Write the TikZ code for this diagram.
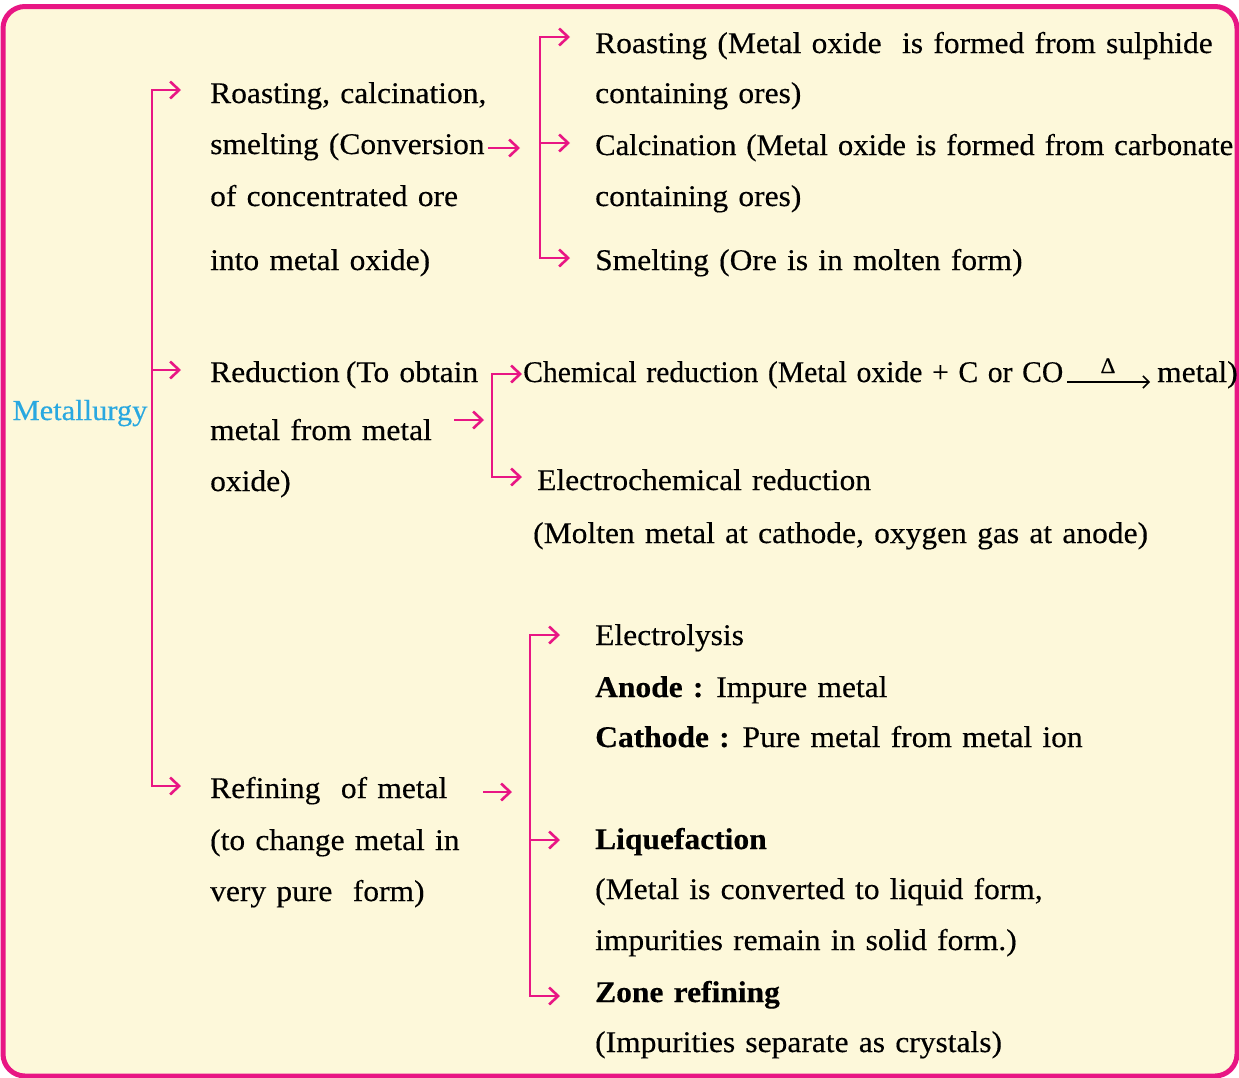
\documentclass[tikz,border=0pt]{standalone}
\usepackage{fontspec}
\setmainfont[FakeStretch=1.05,FakeBold=0.35,WordSpace=1.3]{Liberation Serif}
\usepackage{graphicx}
\usetikzlibrary{arrows.meta}
\definecolor{pinkc}{RGB}{232,22,132}
\definecolor{cream}{RGB}{253,248,218}
\definecolor{cyanc}{RGB}{41,168,224}
\begin{document}
\begin{tikzpicture}[x=1pt,y=-1pt,
  txt/.style={anchor=base west,inner sep=0pt,font=\fontsize{30}{36}\selectfont},
  pline/.style={draw=pinkc,line width=2.6pt},
  conn/.style={pline,-{Straight Barb[length=9pt,width=17pt]}},
  thinarrow/.style={draw=black,line width=1.5pt,-{Straight Barb[length=6pt,width=12pt]}}]
\useasboundingbox (0,0) rectangle (1239,1077);
\fill[white] (0,0) rectangle (1239,1077);
\draw[pinkc,line width=5pt,fill=cream,rounded corners=22pt] (3,6.5) rectangle (1237,1076);

\node[anchor=base,inner sep=0pt,text=cyanc,font=\fontsize{29}{34}\selectfont] (met) at (80,420) {Metallurgy};

% branch 1
\node[txt] (a1) at (210,103) {Roasting, calcination,};
\node[txt] (a2) at (210,154) {smelting (Conversion};
\node[txt] (a3) at (210,206) {of concentrated ore};
\node[txt] (a4) at (210,270) {into metal oxide)};
\node[txt] (r1) at (595,53) {Roasting (Metal oxide\ \ is formed from sulphide};
\node[txt] (r2) at (595,103) {containing ores)};
\node[txt] (r3) at (595,155) {\resizebox{638pt}{\height}{Calcination (Metal oxide is formed from carbonate}};
\node[txt] (r4) at (595,206) {containing ores)};
\node[txt] (r5) at (595,270) {Smelting (Ore is in molten form)};

% branch 2
\node[txt] (b1) at (210,382) {Reduction\hspace{-4pt} (To obtain};
\node[txt] (b2) at (210,440) {metal from metal};
\node[txt] (b3) at (210,491) {oxide)};
\node[txt] (c1) at (523,382) {\resizebox{540pt}{\height}{Chemical reduction (Metal oxide + C or CO}};
\node[anchor=base,inner sep=0pt,font=\fontsize{22}{26}\selectfont] (delta) at (1108,373) {Δ};
\node[txt] (c2) at (1157,382) {metal)};
\node[txt] (e1) at (537,490) {Electrochemical reduction};
\node[txt] (e2) at (533,543) {(Molten metal at cathode, oxygen gas at anode)};

% branch 3
\node[txt] (f1) at (210,798) {Refining\ \ of metal};
\node[txt] (f2) at (210,850) {(to change metal in};
\node[txt] (f3) at (210,901) {very pure\ \ form)};
\node[txt] (g1) at (595,645) {Electrolysis};
\node[txt] (g2) at (595,697) {\textbf{Anode :} Impure metal};
\node[txt] (g3) at (595,747) {\textbf{Cathode :} Pure metal from metal ion};
\node[txt] (g4) at (595,849) {\textbf{Liquefaction}};
\node[txt] (g5) at (595,899) {(Metal is converted to liquid form,};
\node[txt] (g6) at (595,950) {impurities remain in solid form.)};
\node[txt] (g7) at (595,1002) {\textbf{Zone refining}};
\node[txt] (g8) at (595,1052) {(Impurities separate as crystals)};

% coordinates
\coordinate (T1) at (152,90);  \coordinate (T1e) at (181,90);
\coordinate (T2) at (152,370); \coordinate (T2e) at (181,370);
\coordinate (T3) at (152,786); \coordinate (T3e) at (181,786);
\coordinate (A1s) at (488,148); \coordinate (A1e) at (520,148);
\coordinate (S1) at (540,37);  \coordinate (S1e) at (570,37);
\coordinate (S2) at (540,143); \coordinate (S2e) at (570,143);
\coordinate (S3) at (540,258); \coordinate (S3e) at (570,258);
\coordinate (A2s) at (454,420); \coordinate (A2e) at (484,420);
\coordinate (U1) at (492,374); \coordinate (U1e) at (522,374);
\coordinate (U2) at (492,477); \coordinate (U2e) at (522,477);
\coordinate (A3s) at (483,792); \coordinate (A3e) at (512,792);
\coordinate (V1) at (530,635); \coordinate (V1e) at (560,635);
\coordinate (V2) at (530,840); \coordinate (V2e) at (560,840);
\coordinate (V3) at (530,996); \coordinate (V3e) at (560,996);
\coordinate (D1) at (1067,382); \coordinate (D2) at (1150,382);

% connectors
\draw[conn] (T3) -- (T1) -- (T1e);
\draw[conn] (T1) -- (T3) -- (T3e);
\draw[conn] (T2) -- (T2e);
\draw[conn] (A1s) -- (A1e);
\draw[conn] (S3) -- (S1) -- (S1e);
\draw[conn] (S1) -- (S3) -- (S3e);
\draw[conn] (S2) -- (S2e);
\draw[conn] (A2s) -- (A2e);
\draw[conn] (U2) -- (U1) -- (U1e);
\draw[conn] (U1) -- (U2) -- (U2e);
\draw[conn] (A3s) -- (A3e);
\draw[conn] (V3) -- (V1) -- (V1e);
\draw[conn] (V1) -- (V3) -- (V3e);
\draw[conn] (V2) -- (V2e);
\draw[thinarrow] (D1) -- (D2);
\end{tikzpicture}
\end{document}
